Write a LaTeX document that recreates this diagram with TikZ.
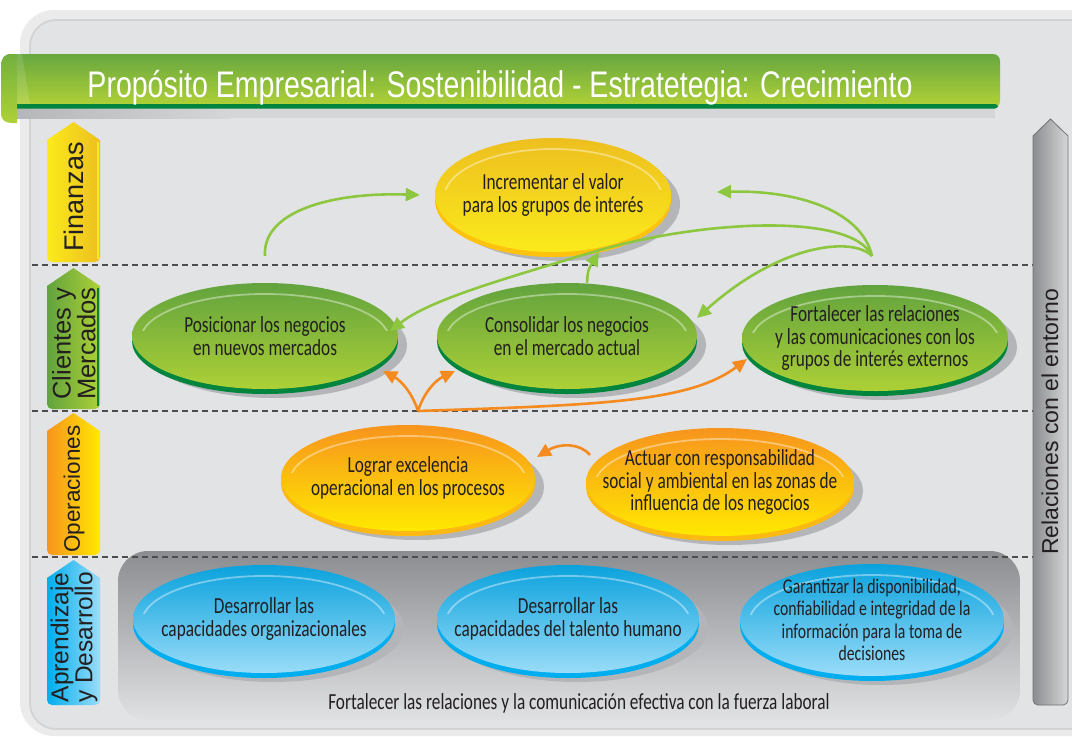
\documentclass[tikz,border=0pt]{standalone}
\usepackage{fontspec}
\setmainfont{Carlito}
\newfontfamily\condf[FakeStretch=0.75]{Carlito}
\newfontfamily\arialf{Liberation Sans}
\usetikzlibrary{arrows.meta,shapes.geometric,calc}
\definecolor{panelfill}{HTML}{E2E3E5}
\definecolor{panelrim}{HTML}{EBEBEC}
\definecolor{panelline}{HTML}{D2D3D5}
\definecolor{txtdark}{HTML}{231F20}
\definecolor{garrow}{HTML}{8DC63F}
\definecolor{oarrow}{HTML}{F58A1F}
\definecolor{ytop}{HTML}{EDBF1F}\definecolor{ybot}{HTML}{FBEA1C}\definecolor{yrim}{HTML}{FFC20E}
\definecolor{gtop}{HTML}{62A33E}\definecolor{gbot}{HTML}{ADD036}\definecolor{grim}{HTML}{00853F}
\definecolor{otop}{HTML}{F7941D}\definecolor{obot}{HTML}{FFE900}\definecolor{orim}{HTML}{FDB913}
\definecolor{btop}{HTML}{0AA2DD}\definecolor{bbot}{HTML}{9ADCF8}\definecolor{brim}{HTML}{00AEEF}
\definecolor{shadowc}{HTML}{B3B5B8}
\definecolor{bannertop}{HTML}{67A73F}\definecolor{bannerbot}{HTML}{B4D336}
\definecolor{darkgreen}{HTML}{00853F}
\definecolor{stripdark}{HTML}{85878A}\definecolor{striplight}{HTML}{D5D6D8}
\definecolor{boxtop}{HTML}{8C8D90}\definecolor{boxbot}{HTML}{E0E1E3}
\definecolor{dashc}{HTML}{4D4D4F}
\tikzset{
  txt/.style={align=center, text=txtdark, font=\condf\fontsize{23}{22.5}\selectfont, inner sep=0},
  sidelbl/.style={align=center, text=txtdark, inner sep=0},
  dashline/.style={draw=dashc, line width=1.3, dash pattern=on 6 off 4},
  garr/.style={draw=garrow, line width=2.6, -{Triangle[length=14,width=13]}},
  oarr/.style={draw=oarrow, line width=2.6, -{Triangle[length=14,width=13]}},
}
% name, cx, cy, rx, ry, top, bottom, rim, text
\newcommand\ovalnode[9]{%
  \fill[shadowc] (#2+9,#3+9) ellipse [x radius=#4, y radius=#5];
  \fill[#8] (#2,#3+5) ellipse [x radius=#4, y radius=#5];
  \node[ellipse, minimum width=2*#4, minimum height=2*#5, inner sep=0, top color=#6, bottom color=#7] (#1) at (#2,#3) {};
  \begin{scope}
    \clip (#2-#4,#3-#5-2) rectangle (#2+#4,#3-0.1*#5);
    \draw[white, opacity=0.4, line width=1.8] (#2,#3+3) ellipse [x radius=#4-9, y radius=#5-8];
  \end{scope}
  \node[txt] (#1-t) at (#2,#3) {#9};
}
% name, tip y, bottom y, left colour, right colour, text, edge colour, font size
\newcommand\sidearrow[8]{%
  \shade[left color=#4, right color=#5] (47,#2+18) -- (73.5,#2) -- (100,#2+18) [rounded corners=5] -- (100,#3) -- (47,#3) [sharp corners] -- cycle;
  \draw[#7, line width=1.2] (98,#2+20) -- (98,#3-3);
  \node[sidelbl, rotate=90, font=\arialf\fontsize{#8}{21.5}\selectfont] (#1) at (74,{(#2+#3)/2+5}) {#6};
}
\begin{document}
\begin{tikzpicture}[x=1pt,y=-1pt]
\useasboundingbox (0,0) rectangle (1072,737);
% panel
\fill[panelrim, rounded corners=34] (20,10) rectangle (1110,736);
\filldraw[fill=panelfill, draw=panelline, line width=1.8, rounded corners=26] (30,20) rectangle (1100,729);
% grey box
\shade[top color=boxtop, bottom color=boxbot, rounded corners=30] (118,551) rectangle (1020,720);
% dashed lines
\draw[dashline] (32,265) -- (1072,265);
\draw[dashline] (32,411) -- (1072,411);
\draw[dashline] (32,557) -- (1072,557);
% banner
\shade[left color=striplight!60!stripdark, right color=striplight] (15,107) rectangle (230,118);
\fill[striplight] (229,107) rectangle (995,118);
\shade[top color=bannertop, bottom color=bannerbot, rounded corners=7] (8,54) -- (1000,54) -- (1000,108) -- (8,108) -- cycle;
\fill[darkgreen, rounded corners=3] (14,104) -- (998,104) -- (998,108.5) -- (14,108.5) -- cycle;
\shade[top color=bannertop!70!garrow, bottom color=bannerbot!85!garrow] (17,54) -- (11,54) .. controls (4,54) and (1,58) .. (1,67) -- (1,113) .. controls (1,120) and (5,123) .. (12,123) -- (17,123) -- (17,108) -- cycle;
\fill[white, opacity=0.12] (17,54) -- (22,54) -- (30,104) -- (17,104) -- cycle;
\node[anchor=base, text=white, inner sep=0] (title) at (500,97) {\resizebox{825pt}{\height}{\arialf\fontsize{37}{37}\selectfont Propósito Empresarial: Sostenibilidad - Estratetegia: Crecimiento}};
% side arrows
\sidearrow{fin}{122}{262}{ybot}{ytop}{Finanzas}{ybot}{27}
\sidearrow{cli}{268}{409}{gtop}{gbot}{Clientes y\\Mercados}{grim}{25.5}
\sidearrow{ope}{413}{555}{otop}{obot}{Operaciones}{obot}{22.5}
\sidearrow{apr}{560}{705}{brim}{bbot}{Aprendizaje\\y Desarrollo}{bbot}{24.5}
% right grey arrow
\shade[left color=boxtop, right color=striplight, draw=black!55, line width=0.8] (1033,136) -- (1050.5,119) -- (1068,136) [rounded corners=5] -- (1068,705) -- (1033,705) [sharp corners] -- cycle;
\node[sidelbl, rotate=90, font=\arialf\fontsize{23}{23}\selectfont] (rel) at (1050,422) {Relaciones con el entorno};
% ovals
\ovalnode{inc}{553}{195}{118}{57}{ytop}{ybot}{yrim}{Incrementar el valor\\para los grupos de interés}
\ovalnode{pos}{265}{336}{133}{53}{gtop}{gbot}{grim}{Posicionar los negocios\\en nuevos mercados}
\ovalnode{con}{567}{336}{130}{53}{gtop}{gbot}{grim}{Consolidar los negocios\\en el mercado actual}
\ovalnode{for}{875}{338}{133}{53}{gtop}{gbot}{grim}{Fortalecer las relaciones\\y las comunicaciones con los\\grupos de interés externos}
\ovalnode{log}{408}{478}{127}{53}{otop}{obot}{orim}{Lograr excelencia\\operacional en los procesos}
\ovalnode{act}{720}{482}{134}{54}{otop}{obot}{orim}{Actuar con responsabilidad\\social y ambiental en las zonas de\\influencia de los negocios}
\ovalnode{dorg}{264}{619}{131}{54}{btop}{bbot}{brim}{Desarrollar las\\capacidades organizacionales}
\ovalnode{dtal}{568}{619}{131}{54}{btop}{bbot}{brim}{Desarrollar las\\capacidades del talento humano}
\ovalnode{gar}{872}{620}{132}{56}{btop}{bbot}{brim}{\fontsize{21}{19}\selectfont Garantizar la disponibilidad,\\\fontsize{21}{19}\selectfont confiabilidad e integridad de la\\\fontsize{21}{19}\selectfont información para la toma de\\\fontsize{21}{19}\selectfont decisiones}
\node[txt, font=\condf\fontsize{23}{23}\selectfont] (lab) at (579,703) {Fortalecer las relaciones y la comunicación efectiva con la fuerza laboral};
% connector start points
\coordinate (gs1) at (265,256);
\coordinate (gs2) at (872,256);
\coordinate (gs3) at (587,283);
\coordinate (os1) at (418,411);
\coordinate (os2) at (590,455);
% green connectors
\draw[garr] (gs1) .. controls (262,212) and (330,192) .. ([xshift=-15]inc.west);
\draw[garr] (gs2) .. controls (862,212) and (800,190) .. (717,192);
\draw[garr] (gs2) .. controls (852,212) and (700,220) .. (593,252) .. controls (500,280) and (430,300) .. (390,331);
\draw[garr] (gs2) .. controls (852,236) and (780,244) .. (697,318);
\draw[garr] (gs3) .. controls (588,270) .. (599,252);
% orange connectors
\draw[oarr] (os1) .. controls (412,392) and (400,380) .. (383,371);
\draw[oarr] (os1) .. controls (424,392) and (436,380) .. (455,371);
\draw[oarr] (os1) .. controls (600,405) and (690,402) .. (747,359);
\draw[oarr] (os2) .. controls (580,443) and (560,443) .. (537,457);
\end{tikzpicture}
\end{document}
